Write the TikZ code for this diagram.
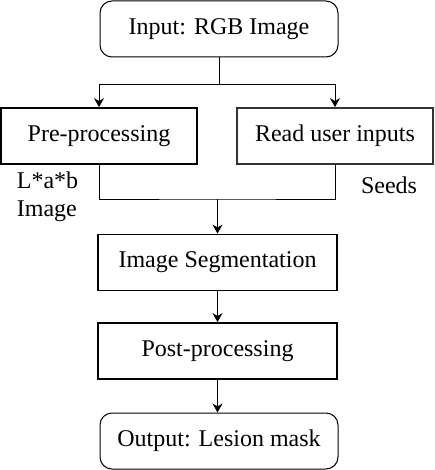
\documentclass[tikz,border=0pt]{standalone}
\usepackage{fontspec}
\setmainfont{Liberation Serif}
\newfontfamily\timesfont{Liberation Serif}
\usetikzlibrary{arrows.meta,positioning,calc}

\begin{document}
\begin{tikzpicture}[>={Stealth[length=4.5pt,width=5pt]},x=1pt,y=1pt,font=\timesfont\fontsize{12}{14}\selectfont]
\tikzstyle{b}=[draw,line width=0.9pt,minimum height=28pt,inner sep=2pt]
\tikzstyle{rb}=[draw,line width=0.5pt,rounded corners=6pt,minimum width=119pt,minimum height=28pt]
\useasboundingbox (0,0) rectangle (217,-235);
\node[rb] (input) at (109.5,-14.5) {Input: RGB Image};
\node[b,minimum width=98pt] (pre) at (49.5,-68) {Pre-processing};
\node[b,minimum width=98pt,draw=black!80] (read) at (167.5,-68) {Read user inputs};
\node[b,minimum width=119.5pt] (seg) at (108.75,-131.25) {Image Segmentation};
\node[b,minimum width=119.5pt] (post) at (108.75,-175.5) {Post-processing};
\node[rb] (output) at (109.5,-220.5) {Output: Lesion mask};
\node[align=left] (lab) at (23.75,-98.5) {L*a*b\\Image};
\node (seeds) at (194.5,-92.5) {Seeds};
% connectors
\coordinate (split) at (109.5,-42);
\coordinate (join) at (108.75,-99.5);
\draw (input.south) -- (split);
\draw[->] (split) -| (pre.north);
\draw[->] (split) -| (read.north);
\draw (pre.south) |- (join) -| (read.south);
\draw[->] (join) -- (seg.north);
\draw[->] (seg) -- (post);
\draw[->] (post.south) -- (output.north -| post.south);
\end{tikzpicture}
\end{document}
